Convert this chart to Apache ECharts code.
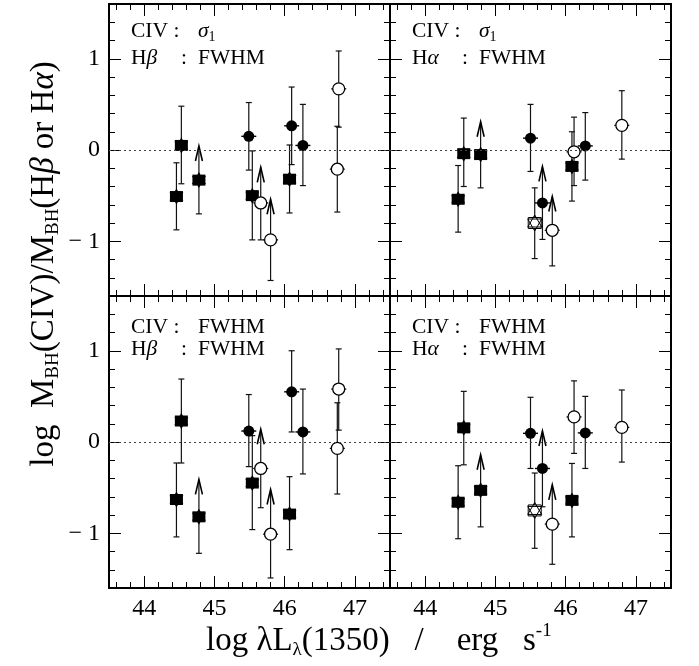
<!DOCTYPE html>
<html><head><meta charset="utf-8">
<script src="https://cdn.jsdelivr.net/npm/echarts@6/dist/echarts.min.js"></script>
<style>html,body{margin:0;padding:0;background:#fff}#c{width:699px;height:666px}</style>
</head><body><div id="c"></div>
<script>
// ---------- axes ----------
const xMin = 43.5, xMax = 47.5, yMin = -1.6, yMax = 1.6;
const xMajorTicks = [44, 45, 46, 47];
const xTickLabels = ['44', '45', '46', '47'];
const yMajorTicks = [-1, 0, 1];
const yTickLabels = ['− 1', '0', '1'];
const xMinorTicks = [];
for (let k = 218; k <= 237; k++) { const v = Math.round(k * 2) / 10; if (v % 1 !== 0) xMinorTicks.push(v); }
const yMinorTicks = [];
for (let k = -7; k <= 7; k++) { const v = Math.round(k * 2) / 10; if (v % 1 !== 0) yMinorTicks.push(v); }

// ---------- data ----------
// marker kinds: fs = filled square/star, fc = filled circle, oc = open circle, oh = open square/star
const leftX     = [44.46, 44.53, 44.78, 45.49, 45.54, 45.66, 45.80, 46.07, 46.10, 46.26, 46.77, 46.75];
const leftKind  = ['fs', 'fs', 'fs', 'fc', 'fs', 'oc', 'oc', 'fs', 'fc', 'fc', 'oc', 'oc'];
const leftLimit = [0, 0, 1, 0, 0, 1, 1, 0, 0, 0, 0, 0];

const rightX     = [44.47, 44.55, 44.79, 45.50, 45.56, 45.67, 45.81, 46.09, 46.12, 46.28, 46.80];
const rightKind  = ['fs', 'fs', 'fs', 'fc', 'oh', 'fc', 'oc', 'fs', 'oc', 'fc', 'oc'];
const rightLimit = [0, 0, 1, 0, 0, 1, 1, 0, 0, 0, 0];

// top-left: CIV sigma1 vs Hbeta FWHM
const tlY  = [-0.51, 0.05, -0.33, 0.15, -0.50, -0.58, -0.985, -0.32, 0.265, 0.05, 0.67, -0.21];
const tlLo = [-0.875, -0.37, -0.70, -0.22, -0.985, -0.985, -1.43, -0.69, -0.16, -0.39, 0.25, -0.68];
const tlHi = [-0.14, 0.48, 0.044, 0.52, -0.01, -0.19, -0.54, 0.055, 0.69, 0.50, 1.085, 0.26];
// top-right: CIV sigma1 vs Halpha FWHM
const trY  = [-0.54, -0.04, -0.05, 0.13, -0.80, -0.58, -0.88, -0.18, -0.02, 0.045, 0.27];
const trLo = [-0.90, -0.40, -0.415, -0.235, -1.19, -0.98, -1.27, -0.56, -0.39, -0.33, -0.10];
const trHi = [-0.17, 0.35, 0.31, 0.50, -0.415, -0.18, -0.51, 0.20, 0.36, 0.41, 0.65];
// bottom-left: CIV FWHM vs Hbeta FWHM
const blY  = [-0.63, 0.23, -0.82, 0.12, -0.45, -0.29, -1.01, -0.79, 0.55, 0.11, 0.58, -0.07];
const blLo = [-1.04, -0.23, -1.22, -0.27, -0.96, -0.72, -1.49, -1.18, 0.11, -0.35, 0.13, -0.57];
const blHi = [-0.23, 0.69, -0.41, 0.52, 0.07, 0.14, -0.52, -0.38, 1.00, 0.58, 1.02, 0.43];
// bottom-right: CIV FWHM vs Halpha FWHM
const brY  = [-0.66, 0.155, -0.53, 0.095, -0.75, -0.29, -0.90, -0.64, 0.275, 0.10, 0.16];
const brLo = [-1.06, -0.25, -0.93, -0.29, -1.165, -0.71, -1.34, -1.04, -0.125, -0.29, -0.22];
const brHi = [-0.26, 0.555, -0.14, 0.49, -0.34, 0.12, -0.47, -0.235, 0.67, 0.50, 0.57];

const panelCIV  = ['σ1', 'σ1', 'FWHM', 'FWHM'];
const panelLine = ['Hβ', 'Hα', 'Hβ', 'Hα'];

// ---------- layout ----------
const FONT = 'Liberation Serif';
const grids = [
  { left: 109, top: 4, width: 281, height: 292 },
  { left: 390, top: 4, width: 281, height: 292 },
  { left: 109, top: 296, width: 281, height: 292 },
  { left: 390, top: 296, width: 281, height: 292 }
].map(g => Object.assign(g, { show: true, borderColor: '#000', borderWidth: 2, backgroundColor: 'transparent', containLabel: false, outerBoundsMode: 'none' }));

const panels = [
  { x: leftX, y: tlY, lo: tlLo, hi: tlHi, kind: leftKind, lim: leftLimit },
  { x: rightX, y: trY, lo: trLo, hi: trHi, kind: rightKind, lim: rightLimit },
  { x: leftX, y: blY, lo: blLo, hi: blHi, kind: leftKind, lim: leftLimit },
  { x: rightX, y: brY, lo: brLo, hi: brHi, kind: rightKind, lim: rightLimit }
];
const KCODE = { fs: 0, fc: 1, oc: 2, oh: 3 };

function xAx(g, pos, vals, len, showLabel) {
  return {
    type: 'value', gridIndex: g, position: pos, min: xMin, max: xMax,
    axisLine: { show: false, onZero: false }, splitLine: { show: false },
    axisTick: { show: true, inside: true, length: len, customValues: vals, lineStyle: { color: '#000', width: 1 } },
    axisLabel: {
      show: showLabel, customValues: vals, margin: 9, fontFamily: FONT, fontSize: 24, color: '#000',
      formatter: v => { const i = xMajorTicks.findIndex(t => Math.abs(t - v) < 1e-6); return i >= 0 ? xTickLabels[i] : ''; }
    }
  };
}
function yAx(g, pos, vals, len, showLabel) {
  return {
    type: 'value', gridIndex: g, position: pos, min: yMin, max: yMax,
    axisLine: { show: false, onZero: false }, splitLine: { show: false },
    axisTick: { show: true, inside: true, length: len, customValues: vals, lineStyle: { color: '#000', width: 1 } },
    axisLabel: {
      show: showLabel, customValues: vals, margin: 9, fontFamily: FONT, fontSize: 24, color: '#000',
      formatter: v => { const i = yMajorTicks.findIndex(t => Math.abs(t - v) < 1e-6); return i >= 0 ? yTickLabels[i] : ''; }
    }
  };
}

const xAxis = [], yAxis = [];
for (let g = 0; g < 4; g++) {
  const bottomRow = g >= 2, leftCol = g % 2 === 0;
  xAxis.push(xAx(g, 'bottom', xMajorTicks, 12, bottomRow));
  xAxis.push(xAx(g, 'top', xMajorTicks, 12, false));
  xAxis.push(xAx(g, 'bottom', xMinorTicks, 6, false));
  xAxis.push(xAx(g, 'top', xMinorTicks, 6, false));
  yAxis.push(yAx(g, 'left', yMajorTicks, 12, leftCol));
  yAxis.push(yAx(g, 'right', yMajorTicks, 12, false));
  yAxis.push(yAx(g, 'left', yMinorTicks, 6, false));
  yAxis.push(yAx(g, 'right', yMinorTicks, 6, false));
}

const barStyle = { stroke: '#111', lineWidth: 1.2, fill: null };
function renderBars(params, api) {
  const x = api.value(0), lo = api.value(2), hi = api.value(3), lim = api.value(5);
  const a = api.coord([x, lo]), b = api.coord([x, hi]);
  const ch = [
    { type: 'line', shape: { x1: a[0], y1: a[1], x2: b[0], y2: b[1] }, style: barStyle },
    { type: 'line', shape: { x1: a[0] - 3, y1: a[1], x2: a[0] + 3, y2: a[1] }, style: barStyle }
  ];
  if (lim) {
    ch.push({ type: 'polyline', shape: { points: [[b[0] - 3.5, b[1] + 15], [b[0], b[1]], [b[0] + 3.5, b[1] + 15]] }, style: { stroke: '#000', lineWidth: 1.6, fill: null } });
  } else {
    ch.push({ type: 'line', shape: { x1: b[0] - 3, y1: b[1], x2: b[0] + 3, y2: b[1] }, style: barStyle });
  }
  return { type: 'group', children: ch };
}
function hexPts(cx, cy, R, up) {
  const s = up ? 1 : -1;
  return [[cx, cy - s * R], [cx + 0.866 * R, cy + s * R / 2], [cx - 0.866 * R, cy + s * R / 2]];
}
function renderMarks(params, api) {
  const p = api.coord([api.value(0), api.value(1)]);
  const k = api.value(4);
  const cx = p[0], cy = p[1];
  const ch = [];
  if (k === 0) {
    ch.push({ type: 'rect', shape: { x: cx - 6.5, y: cy - 5.5, width: 13, height: 11 }, style: { fill: '#000' } });
    ch.push({ type: 'polygon', shape: { points: hexPts(cx, cy, 8, true) }, style: { fill: '#000' } });
    ch.push({ type: 'polygon', shape: { points: hexPts(cx, cy, 8, false) }, style: { fill: '#000' } });
  } else if (k === 3) {
    ch.push({ type: 'rect', shape: { x: cx - 6.5, y: cy - 5.5, width: 13, height: 11 }, style: { fill: '#fff', stroke: '#000', lineWidth: 1 } });
    ch.push({ type: 'polygon', shape: { points: hexPts(cx, cy, 8, true) }, style: { fill: null, stroke: '#000', lineWidth: 1 } });
    ch.push({ type: 'polygon', shape: { points: hexPts(cx, cy, 8, false) }, style: { fill: null, stroke: '#000', lineWidth: 1 } });
  } else if (k === 1) {
    ch.push({ type: 'line', shape: { x1: cx - 7.5, y1: cy, x2: cx + 7.5, y2: cy }, style: { stroke: '#000', lineWidth: 1.4 } });
    ch.push({ type: 'circle', shape: { cx: cx, cy: cy, r: 5.5 }, style: { fill: '#000' } });
  } else {
    ch.push({ type: 'line', shape: { x1: cx - 7.5, y1: cy, x2: cx + 7.5, y2: cy }, style: { stroke: '#000', lineWidth: 1.2 } });
    ch.push({ type: 'circle', shape: { cx: cx, cy: cy, r: 6 }, style: { fill: '#fff', stroke: '#000', lineWidth: 1.3 } });
  }
  return { type: 'group', children: ch };
}

const series = [];
panels.forEach((P, g) => {
  const data = P.x.map((x, i) => [x, P.y[i], P.lo[i], P.hi[i], KCODE[P.kind[i]], P.lim[i]]);
  series.push({
    type: 'custom', xAxisIndex: g * 4, yAxisIndex: g * 4, data: data, renderItem: renderBars,
    encode: { x: 0, y: 1 }, silent: true, z: 3, clip: false,
    markLine: {
      silent: true, symbol: 'none', label: { show: false },
      lineStyle: { type: [2, 3], color: '#444', width: 1.2 },
      data: [{ yAxis: 0 }]
    }
  });
  series.push({
    type: 'custom', xAxisIndex: g * 4, yAxisIndex: g * 4, data: data, renderItem: renderMarks,
    encode: { x: 0, y: 1 }, silent: true, z: 4, clip: false
  });
});

// ---------- texts ----------
const graphic = [];
const offs = [[109, 4], [390, 4], [109, 296], [390, 296]];
panels.forEach((P, g) => {
  const ox = offs[g][0], oy = offs[g][1];
  const b1 = g < 2 ? oy + 35 : oy + 39, b2 = g < 2 ? oy + 62 : oy + 61;
  const rich = {
    n: { fontFamily: FONT, fontSize: 21.5, lineHeight: 26, fill: '#000' },
    i: { fontFamily: FONT, fontSize: 21.5, fontStyle: 'italic', lineHeight: 26, fill: '#000' },
    s: { fontFamily: FONT, fontSize: 14, lineHeight: 26, verticalAlign: 'bottom', fill: '#000' }
  };
  graphic.push({ type: 'text', x: ox + 22, y: b1 - 7.2, silent: true,
    style: { text: '{n|CIV :}', rich: rich, align: 'left', verticalAlign: 'middle' } });
  const civ = panelCIV[g];
  const civTxt = civ === 'σ1' ? '{i|σ}{s|1}' : '{n|' + civ + '}';
  graphic.push({ type: 'text', x: ox + 89, y: b1 - 7.2, silent: true,
    style: { text: civTxt, rich: rich, align: 'left', verticalAlign: 'middle' } });
  const ln = panelLine[g];
  graphic.push({ type: 'text', x: ox + 22, y: b2 - 7.2, silent: true,
    style: { text: '{n|' + ln[0] + '}{i|' + ln[1] + '}', rich: rich, align: 'left', verticalAlign: 'middle' } });
  graphic.push({ type: 'text', x: ox + 72, y: b2 - 7.2, silent: true,
    style: { text: '{n|:}', rich: rich, align: 'left', verticalAlign: 'middle' } });
  graphic.push({ type: 'text', x: ox + 89, y: b2 - 7.2, silent: true,
    style: { text: '{n|FWHM}', rich: rich, align: 'left', verticalAlign: 'middle' } });
});
const tRich = {
  n: { fontFamily: FONT, fontSize: 33, lineHeight: 38, fill: '#000' },
  i: { fontFamily: FONT, fontSize: 33, fontStyle: 'italic', lineHeight: 38, fill: '#000' },
  s: { fontFamily: FONT, fontSize: 19, lineHeight: 38, verticalAlign: 'bottom', fill: '#000' },
  p: { fontFamily: FONT, fontSize: 19, lineHeight: 38, verticalAlign: 'top', fill: '#000' }
};
graphic.push({ type: 'text', x: 206, y: 641, silent: true,
  style: { text: '{n|log λL}{s|λ}{n|(1350)   /    erg   s}{p|-1}', rich: tRich, align: 'left', verticalAlign: 'middle' } });
graphic.push({ type: 'text', x: 44, y: 264, rotation: Math.PI / 2, silent: true,
  style: { text: '{n|log  M}{s|BH}{n|(CIV)/M}{s|BH}{n|(H}{i|β}{n| or H}{i|α}{n|)}', rich: tRich, align: 'center', verticalAlign: 'middle' } });

const chart = echarts.init(document.getElementById('c'), null, { renderer: 'canvas' });
chart.setOption({
  animation: false, backgroundColor: '#fff',
  grid: grids, xAxis: xAxis, yAxis: yAxis, series: series, graphic: graphic
});
</script></body></html>
